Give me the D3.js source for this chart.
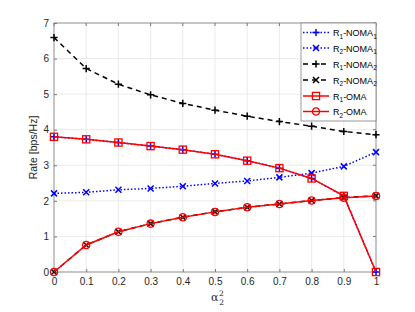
<!DOCTYPE html>
<html><head><meta charset="utf-8">
<script src="https://cdn.jsdelivr.net/npm/d3@7"></script>
<style>body{margin:0;background:#fff;}svg{display:block;font-family:"Liberation Sans",Arial,sans-serif;}</style>
</head><body>
<svg id="c" width="415" height="312"></svg>
<script>
const alpha = [0,0.1,0.2,0.3,0.4,0.5,0.6,0.7,0.8,0.9,1];
const r1oma = [3.80,3.73,3.64,3.54,3.44,3.31,3.13,2.92,2.63,2.14,0];
const r2oma = [0,0.76,1.13,1.36,1.54,1.69,1.82,1.91,2.01,2.09,2.14];
const r1noma1 = r1oma.slice();
const r2noma1 = [2.21,2.24,2.31,2.35,2.41,2.49,2.56,2.66,2.78,2.97,3.37];
const r1noma2 = [6.59,5.72,5.28,4.98,4.74,4.55,4.38,4.23,4.10,3.95,3.86];
const r2noma2 = r2oma.slice();
const xTicks = [0,0.1,0.2,0.3,0.4,0.5,0.6,0.7,0.8,0.9,1];
const yTicks = [0,1,2,3,4,5,6,7];

const svg = d3.select("#c");
const L=54, R=376, T=23, B=272;
const x = d3.scaleLinear().domain([0,1]).range([L,R]);
const y = d3.scaleLinear().domain([0,7]).range([B,T]);
const axisCol="#262626";

// grid
const g = svg.append("g");
g.selectAll(".gx").data(xTicks).enter().append("line")
 .attr("x1",d=>x(d)).attr("x2",d=>x(d)).attr("y1",T).attr("y2",B)
 .attr("stroke","#e6e6e6").attr("stroke-width",0.8);
g.selectAll(".gy").data(yTicks).enter().append("line")
 .attr("y1",d=>y(d)).attr("y2",d=>y(d)).attr("x1",L).attr("x2",R)
 .attr("stroke","#e6e6e6").attr("stroke-width",0.8);

// axes
const xa = svg.append("g").attr("transform",`translate(0,${B})`)
 .call(d3.axisBottom(x).tickValues(xTicks).tickFormat(d=>d===0?"0":d===1?"1":d3.format(".1f")(d)).tickSizeInner(-3).tickSizeOuter(0).tickPadding(6));
const ya = svg.append("g").attr("transform",`translate(${L},0)`)
 .call(d3.axisLeft(y).tickValues(yTicks).tickFormat(d3.format("d")).tickSizeInner(-3).tickSizeOuter(0).tickPadding(5));
[xa,ya].forEach(a=>{a.select(".domain").remove();a.selectAll("line").attr("stroke",axisCol).attr("stroke-width",0.6);
 a.selectAll("text").attr("fill",axisCol).style("font-size","10px").style("font-family","Liberation Sans, Arial, sans-serif");});
// top/right ticks
svg.append("g").selectAll("line").data(xTicks).enter().append("line")
 .attr("x1",d=>x(d)).attr("x2",d=>x(d)).attr("y1",T).attr("y2",T+3).attr("stroke",axisCol).attr("stroke-width",0.6);
svg.append("g").selectAll("line").data(yTicks).enter().append("line")
 .attr("y1",d=>y(d)).attr("y2",d=>y(d)).attr("x1",R).attr("x2",R-3).attr("stroke",axisCol).attr("stroke-width",0.6);
svg.append("rect").attr("x",L).attr("y",T).attr("width",R-L).attr("height",B-T)
 .attr("fill","none").attr("stroke","#808080").attr("stroke-width",0.8);

// labels
svg.append("text").attr("transform",`translate(37,${(T+B)/2}) rotate(-90)`).attr("text-anchor","middle")
 .attr("fill",axisCol).style("font-size","10.5px").text("Rate [bps/Hz]");
const xl = svg.append("text").attr("x",(L+R)/2-4).attr("y",301).attr("fill",axisCol).style("font-size","11px")
 .style("font-family","DejaVu Serif, serif");
xl.append("tspan").text("α");
xl.append("tspan").attr("dx",0.5).attr("dy",-5).style("font-size","7.5px").text("2");
xl.append("tspan").attr("dx",-4.5).attr("dy",9).style("font-size","7.5px").text("2");

// series
const series = [
 {name:["R","1","-NOMA","1"], v:r1noma1, color:"#0000ff", dash:"1.5,2", m:"plus"},
 {name:["R","2","-NOMA","1"], v:r2noma1, color:"#0000ff", dash:"1.5,2", m:"x"},
 {name:["R","1","-NOMA","2"], v:r1noma2, color:"#000000", dash:"5,4", m:"plus"},
 {name:["R","2","-NOMA","2"], v:r2noma2, color:"#000000", dash:"5,4", m:"x"},
 {name:["R","1","-OMA",""], v:r1oma, color:"#ff0000", dash:null, m:"square"},
 {name:["R","2","-OMA",""], v:r2oma, color:"#ff0000", dash:null, m:"circle"}
];
function marker(sel, type, color){
 const s=3.6;
 if(type==="plus") sel.append("path").attr("d",`M${-s},0H${s}M0,${-s}V${s}`).attr("stroke",color).attr("stroke-width",1.5).attr("fill","none");
 if(type==="x") sel.append("path").attr("d",`M${-3},${-3}L3,3M-3,3L3,-3`).attr("stroke",color).attr("stroke-width",1.5).attr("fill","none");
 if(type==="square") sel.append("rect").attr("x",-s).attr("y",-s).attr("width",2*s).attr("height",2*s).attr("stroke",color).attr("stroke-width",1.3).attr("fill","none");
 if(type==="circle") sel.append("circle").attr("r",s).attr("stroke",color).attr("stroke-width",1.3).attr("fill","none");
}
const line = d3.line().x((d,i)=>x(alpha[i])).y(d=>y(d));
series.forEach(s=>{
 svg.append("path").datum(s.v).attr("d",line).attr("fill","none").attr("stroke",s.color)
  .attr("stroke-width",1.5).attr("stroke-dasharray",s.dash);
 s.v.forEach((v,i)=>{const mg=svg.append("g").attr("transform",`translate(${x(alpha[i])},${y(v)})`);marker(mg,s.m,s.color);});
});

// legend
const lg = svg.append("g");
lg.append("rect").attr("x",301).attr("y",T).attr("width",R-301).attr("height",98).attr("fill","#fff").attr("stroke","#808080").attr("stroke-width",0.8);
const rowsY=[32.5,48,64,80,96,111.5];
series.forEach((s,i)=>{
 const yy=rowsY[i];
 lg.append("line").attr("x1",303).attr("x2",329).attr("y1",yy).attr("y2",yy).attr("stroke",s.color).attr("stroke-width",1.5).attr("stroke-dasharray",s.dash);
 marker(lg.append("g").attr("transform",`translate(316,${yy})`),s.m,s.color);
 const t=lg.append("text").attr("x",333).attr("y",yy+3.5).attr("fill","#000").style("font-size","9px");
 t.append("tspan").text(s.name[0]);
 t.append("tspan").attr("dy",2.5).style("font-size","6.5px").text(s.name[1]);
 t.append("tspan").attr("dy",-2.5).text(s.name[2]);
 if(s.name[3]) t.append("tspan").attr("dy",2.5).style("font-size","6.5px").text(s.name[3]);
});
</script>
</body></html>
